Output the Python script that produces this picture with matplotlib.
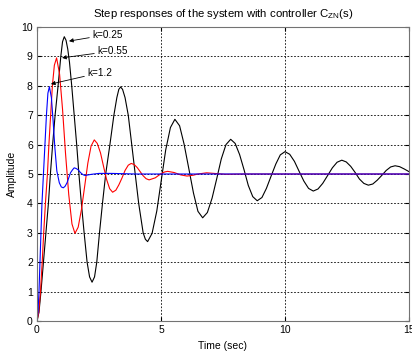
import matplotlib.pyplot as plt

# step responses (time in sec, amplitude)
t_k025 = [0, 0.08, 0.16, 0.26, 0.36, 0.46, 0.54, 0.63, 0.73, 0.85, 0.96, 1.03, 1.10, 1.17, 1.24, 1.31,
          1.40, 1.50, 1.60, 1.69, 1.79, 1.90, 2.02, 2.12, 2.22, 2.32, 2.41, 2.52, 2.64, 2.77, 2.94,
          3.10, 3.22, 3.30, 3.37, 3.45, 3.55, 3.68, 3.82, 3.96, 4.10, 4.28, 4.37, 4.46,
          4.64, 4.83, 5.01, 5.19, 5.38, 5.56, 5.75, 5.93, 6.12, 6.31, 6.49, 6.68,
          6.87, 7.06, 7.25, 7.43, 7.62, 7.81, 7.99, 8.17, 8.35, 8.52, 8.70, 8.88,
          9.07, 9.25, 9.44, 9.63, 9.81, 10.0, 10.19, 10.38, 10.57, 10.76, 10.95, 11.14,
          11.33, 11.52, 11.72, 11.91, 12.10, 12.29, 12.47, 12.65, 12.83, 13.00, 13.18, 13.36,
          13.54, 13.72, 13.90, 14.08, 14.26, 14.44, 14.62, 14.81, 15.0]
y_k025 = [0, 0.3, 1.0, 2.0, 3.0, 4.0, 5.0, 6.0, 7.0, 8.0, 9.0, 9.5, 9.67, 9.55, 9.25, 8.8,
          8.0, 7.0, 6.0, 5.0, 4.0, 3.0, 2.0, 1.5, 1.32, 1.5, 2.0, 3.0, 4.0, 5.0, 6.0,
          7.0, 7.6, 7.88, 7.96, 7.88, 7.6, 7.0, 6.0, 5.0, 4.0, 3.0, 2.78, 2.70,
          2.98, 3.74, 4.78, 5.82, 6.58, 6.86, 6.64, 6.02, 5.19, 4.35, 3.73, 3.51,
          3.69, 4.18, 4.85, 5.51, 6.00, 6.18, 6.04, 5.66, 5.14, 4.61, 4.23, 4.09,
          4.20, 4.51, 4.93, 5.34, 5.65, 5.76, 5.67, 5.43, 5.09, 4.76, 4.51, 4.42,
          4.49, 4.68, 4.95, 5.21, 5.40, 5.47, 5.41, 5.26, 5.05, 4.83, 4.68, 4.62,
          4.66, 4.79, 4.95, 5.12, 5.24, 5.28, 5.25, 5.17, 5.08]

t_k055 = [0, 0.07, 0.14, 0.21, 0.27, 0.34, 0.42, 0.48, 0.55, 0.62, 0.70, 0.79,
          0.91, 1.03, 1.15, 1.28, 1.41, 1.53, 1.66, 1.79, 1.92, 2.05, 2.18, 2.31,
          2.43, 2.56, 2.68, 2.80, 2.93, 3.05, 3.18, 3.30, 3.43, 3.55, 3.68, 3.80,
          3.92, 4.04, 4.16, 4.28, 4.40, 4.52, 4.77, 4.90, 5.02, 5.15, 5.27,
          5.53, 5.66, 5.79, 6.05, 6.31, 6.44, 6.58, 6.84, 7.6, 8.4, 15.0]
y_k055 = [0, 0.3, 1.0, 2.0, 3.0, 4.0, 5.0, 6.0, 7.0, 8.0, 8.7, 8.95,
          8.4, 7.2, 5.7, 4.3, 3.3, 2.98, 3.19, 3.78, 4.57, 5.37, 5.95, 6.16,
          6.04, 5.72, 5.27, 4.83, 4.50, 4.38, 4.45, 4.63, 4.87, 5.12, 5.30, 5.36,
          5.32, 5.22, 5.08, 4.94, 4.84, 4.80, 4.87, 4.95, 5.02, 5.07, 5.09,
          5.05, 5.01, 4.97, 4.93, 4.96, 4.99, 5.01, 5.04, 4.99, 5.0, 5.0]

t_k12 = [0, 0.04, 0.08, 0.12, 0.16, 0.20, 0.26, 0.32, 0.38, 0.44, 0.50,
         0.58, 0.65, 0.72, 0.80, 0.90, 0.98, 1.06, 1.13, 1.21, 1.28, 1.35, 1.43, 1.50,
         1.57, 1.65, 1.72, 1.79, 1.87, 1.94, 2.2, 2.5, 3.0, 4.0, 15.0]
y_k12 = [0, 0.3, 1.0, 2.0, 3.0, 4.0, 5.0, 6.0, 7.0, 7.75, 7.97,
         7.6, 6.8, 5.9, 5.1, 4.7, 4.56, 4.53, 4.58, 4.70, 4.87, 5.04, 5.14, 5.21,
         5.19, 5.15, 5.08, 5.02, 4.97, 4.95, 4.99, 5.02, 5.02, 5.0, 5.0]

xticks = [0, 5, 10, 15]
yticks = [0, 1, 2, 3, 4, 5, 6, 7, 8, 9, 10]

plt.rcParams['font.family'] = ['Liberation Sans', 'DejaVu Sans']
plt.rcParams['font.size'] = 7.5

fig = plt.figure(figsize=(4.12, 3.53), dpi=100)
ax = fig.add_axes([37/412, 1-321/353, 372/412, 294/353])

ax.plot(t_k025, y_k025, color='k', lw=0.8)
ax.plot(t_k055, y_k055, color='r', lw=0.8)
ax.plot(t_k12, y_k12, color='b', lw=0.8)

ax.set_xlim(0, 15)
ax.set_ylim(0, 10)
ax.set_xticks(xticks)
ax.set_yticks(yticks)
ax.grid(True, color='k', linestyle=(0, (2, 2)), lw=0.6)
ax.tick_params(direction='in', length=3, top=True, right=True, pad=3, colors='k')
for s in ax.spines.values():
    s.set_color('0.45')

ax.set_title('Step responses of the system with controller C$_{\\mathregular{ZN}}$(s)', fontsize=8.2, pad=7)
ax.set_xlabel('Time (sec)', labelpad=4)
ax.set_ylabel('Amplitude', labelpad=3)

arr = dict(arrowstyle='-|>', color='k', lw=0.6, mutation_scale=6, shrinkA=0, shrinkB=0)
ax.annotate('k=0.25', xy=(1.29, 9.52), xytext=(2.22, 9.74), ha='left', va='center', fontsize=7.2, arrowprops=arr)
ax.annotate('k=0.55', xy=(1.01, 8.95), xytext=(2.42, 9.18), ha='left', va='center', fontsize=7.2, arrowprops=arr)
ax.annotate('k=1.2', xy=(0.56, 8.06), xytext=(2.02, 8.44), ha='left', va='center', fontsize=7.2, arrowprops=arr)

plt.savefig('out.png', dpi=100)
